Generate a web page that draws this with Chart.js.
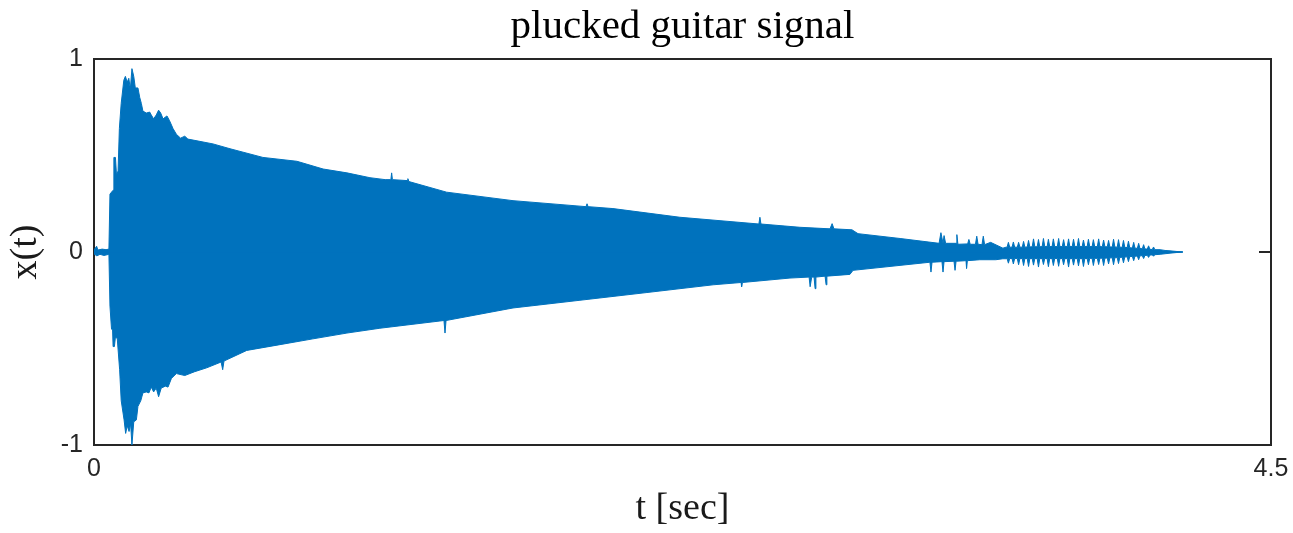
<!DOCTYPE html>
<html>
<head>
<meta charset="utf-8">
<script src="https://cdn.jsdelivr.net/npm/chart.js@4/dist/chart.umd.min.js"></script>
<style>
  html, body { margin: 0; padding: 0; background: #fff; }
  canvas { display: block; }
</style>
</head>
<body>
<canvas id="c" width="1293" height="533"></canvas>
<script>
// ---- data (time in seconds, amplitude) ----
const titleText = 'plucked guitar signal';
const xAxisLabel = 't [sec]';
const yAxisLabel = 'x(t)';
const xTicks = [0, 4.5];
const xTickLabels = ['0', '4.5'];
const yTicks = [-1, 0, 1];
const yTickLabels = ['-1', '0', '1'];

// upper envelope of the waveform: [t, amplitude]
const upperEnvelope = [
  [0,0.01],[0.010,0.03],[0.015,0.01],[0.031,0.015],[0.046,0.012],[0.057,0.015],
  [0.061,0.30],[0.073,0.32],[0.076,0.49],[0.082,0.49],[0.086,0.40],[0.092,0.42],
  [0.097,0.64],[0.104,0.77],[0.114,0.89],[0.120,0.91],[0.127,0.88],[0.133,0.90],
  [0.139,0.845],[0.145,0.95],[0.152,0.91],[0.158,0.85],[0.168,0.85],[0.175,0.80],
  [0.181,0.77],[0.187,0.73],[0.200,0.72],[0.213,0.725],[0.219,0.71],[0.228,0.69],
  [0.238,0.71],[0.247,0.735],[0.255,0.72],[0.264,0.69],[0.279,0.705],[0.289,0.68],
  [0.302,0.64],[0.315,0.61],[0.331,0.59],[0.347,0.60],[0.359,0.585],[0.394,0.576],
  [0.455,0.56],[0.520,0.535],[0.646,0.49],[0.776,0.47],[0.876,0.43],[0.967,0.41],
  [1.055,0.385],[1.113,0.375],[1.135,0.375],[1.138,0.41],[1.141,0.375],[1.197,0.37],
  [1.200,0.38],[1.204,0.365],[1.348,0.31],[1.602,0.266],[1.881,0.235],[1.885,0.25],
  [1.889,0.235],[1.984,0.225],[2.240,0.18],[2.542,0.145],[2.546,0.18],[2.550,0.145],
  [2.699,0.128],[2.814,0.12],[2.822,0.147],[2.829,0.12],[2.898,0.115],[2.921,0.095],
  [3.082,0.07],[3.231,0.045],[3.238,0.10],[3.246,0.045],[3.250,0.085],[3.256,0.045],
  [3.296,0.045],[3.299,0.09],[3.303,0.04],[3.340,0.042],[3.345,0.065],[3.350,0.04],
  [3.370,0.04],[3.375,0.082],[3.380,0.04],[3.395,0.038],[3.400,0.082],[3.405,0.038],
  [3.428,0.05],[3.475,0.02],[3.487,0.025],
  [3.491,0.025],[3.496,0.05],[3.501,0.025],[3.510,0.025],[3.515,0.052],[3.520,0.025],
  [3.530,0.025],[3.535,0.05],[3.540,0.025],[3.549,0.025],[3.554,0.055],[3.559,0.025],
  [3.568,0.026],[3.573,0.06],[3.578,0.026],[3.587,0.027],[3.592,0.068],[3.597,0.027],
  [3.606,0.027],[3.611,0.065],[3.616,0.027],[3.625,0.028],[3.630,0.07],[3.635,0.028],
  [3.644,0.028],[3.649,0.066],[3.654,0.028],[3.663,0.028],[3.668,0.068],[3.673,0.028],
  [3.683,0.028],[3.688,0.07],[3.693,0.028],[3.702,0.028],[3.707,0.064],[3.712,0.028],
  [3.721,0.028],[3.726,0.068],[3.731,0.028],[3.740,0.028],[3.745,0.066],[3.750,0.028],
  [3.759,0.028],[3.764,0.07],[3.769,0.028],[3.778,0.028],[3.783,0.062],[3.788,0.028],
  [3.797,0.028],[3.802,0.066],[3.807,0.028],[3.816,0.028],[3.821,0.064],[3.826,0.028],
  [3.836,0.028],[3.841,0.068],[3.846,0.028],[3.855,0.027],[3.860,0.062],[3.865,0.027],
  [3.874,0.027],[3.879,0.06],[3.884,0.026],[3.893,0.026],[3.898,0.066],[3.903,0.026],
  [3.912,0.025],[3.917,0.064],[3.922,0.025],[3.931,0.024],[3.936,0.06],[3.941,0.024],
  [3.950,0.023],[3.955,0.056],[3.960,0.022],[3.970,0.021],[3.975,0.05],[3.980,0.02],
  [3.989,0.019],[3.994,0.045],[3.999,0.018],[4.008,0.017],[4.013,0.038],[4.018,0.016],
  [4.027,0.015],[4.032,0.032],[4.037,0.014],[4.046,0.013],[4.051,0.026],[4.056,0.012],
  [4.076,0.012],[4.095,0.008],[4.114,0.006],[4.137,0.003],[4.163,0]
];

// lower envelope of the waveform: [t, amplitude]
const lowerEnvelope = [
  [0,-0.01],[0.011,-0.02],[0.023,-0.012],[0.038,-0.018],[0.057,-0.012],
  [0.061,-0.28],[0.067,-0.40],[0.071,-0.40],[0.073,-0.49],[0.078,-0.49],[0.082,-0.44],
  [0.089,-0.45],[0.098,-0.61],[0.104,-0.77],[0.115,-0.87],[0.121,-0.94],[0.127,-0.90],
  [0.134,-0.93],[0.140,-0.89],[0.145,-1.0],[0.152,-0.88],[0.162,-0.87],[0.168,-0.80],
  [0.179,-0.77],[0.187,-0.73],[0.200,-0.725],[0.210,-0.73],[0.219,-0.70],[0.228,-0.725],
  [0.238,-0.705],[0.247,-0.75],[0.257,-0.705],[0.273,-0.695],[0.283,-0.70],[0.296,-0.655],
  [0.315,-0.63],[0.347,-0.64],[0.385,-0.62],[0.431,-0.60],[0.486,-0.57],[0.492,-0.61],
  [0.497,-0.565],[0.584,-0.51],[0.711,-0.48],[0.837,-0.45],[0.967,-0.42],[1.093,-0.395],
  [1.338,-0.355],[1.342,-0.42],[1.346,-0.355],[1.602,-0.29],[1.858,-0.25],[2.114,-0.21],
  [2.367,-0.17],[2.474,-0.158],[2.476,-0.18],[2.479,-0.158],[2.661,-0.135],[2.734,-0.13],
  [2.738,-0.18],[2.744,-0.13],[2.753,-0.13],[2.757,-0.19],[2.760,-0.13],[2.795,-0.125],
  [2.799,-0.17],[2.802,-0.125],[2.890,-0.116],[2.902,-0.095],[3.196,-0.053],[3.200,-0.104],
  [3.204,-0.053],[3.242,-0.05],[3.246,-0.104],[3.250,-0.05],[3.288,-0.048],[3.292,-0.095],
  [3.296,-0.048],[3.334,-0.045],[3.336,-0.085],[3.339,-0.045],[3.387,-0.04],[3.448,-0.04],
  [3.475,-0.035],[3.487,-0.035],
  [3.491,-0.034],[3.496,-0.058],[3.501,-0.034],[3.510,-0.034],[3.515,-0.062],[3.520,-0.034],
  [3.530,-0.034],[3.535,-0.066],[3.540,-0.034],[3.549,-0.034],[3.554,-0.07],[3.559,-0.034],
  [3.568,-0.034],[3.573,-0.075],[3.578,-0.034],[3.587,-0.034],[3.592,-0.068],[3.597,-0.034],
  [3.606,-0.034],[3.611,-0.078],[3.616,-0.034],[3.625,-0.034],[3.630,-0.065],[3.635,-0.034],
  [3.644,-0.034],[3.649,-0.076],[3.654,-0.034],[3.663,-0.034],[3.668,-0.07],[3.673,-0.034],
  [3.683,-0.034],[3.688,-0.074],[3.693,-0.034],[3.702,-0.034],[3.707,-0.066],[3.712,-0.034],
  [3.721,-0.034],[3.726,-0.078],[3.731,-0.034],[3.740,-0.034],[3.745,-0.068],[3.750,-0.034],
  [3.759,-0.034],[3.764,-0.072],[3.769,-0.034],[3.778,-0.034],[3.783,-0.075],[3.788,-0.034],
  [3.797,-0.034],[3.802,-0.066],[3.807,-0.033],[3.816,-0.033],[3.821,-0.07],[3.826,-0.033],
  [3.836,-0.033],[3.841,-0.065],[3.846,-0.032],[3.855,-0.032],[3.860,-0.07],[3.865,-0.032],
  [3.874,-0.031],[3.879,-0.062],[3.884,-0.03],[3.893,-0.03],[3.898,-0.066],[3.903,-0.03],
  [3.912,-0.029],[3.917,-0.06],[3.922,-0.028],[3.931,-0.027],[3.936,-0.056],[3.941,-0.026],
  [3.950,-0.025],[3.955,-0.05],[3.960,-0.024],[3.970,-0.023],[3.975,-0.045],[3.980,-0.022],
  [3.989,-0.021],[3.994,-0.04],[3.999,-0.02],[4.008,-0.019],[4.013,-0.034],[4.018,-0.018],
  [4.027,-0.017],[4.032,-0.028],[4.037,-0.016],[4.046,-0.015],[4.051,-0.022],[4.056,-0.014],
  [4.076,-0.012],[4.095,-0.009],[4.114,-0.006],[4.137,-0.003],[4.163,0]
];

// ---- rendering ----
const BLUE = '#0072BD';
const AXIS = '#262626';

const boxPlugin = {
  id: 'matlabBox',
  beforeDatasetsDraw(chart) {
    const { ctx, chartArea: a, scales: { x, y } } = chart;
    ctx.save();
    ctx.strokeStyle = AXIS;
    ctx.lineWidth = 2;
    ctx.strokeRect(a.left, a.top, a.right - a.left, a.bottom - a.top);
    const tl = 12;
    ctx.beginPath();
    yTicks.forEach(v => {
      const p = y.getPixelForValue(v);
      ctx.moveTo(a.left, p); ctx.lineTo(a.left + tl, p);
      ctx.moveTo(a.right, p); ctx.lineTo(a.right - tl, p);
    });
    xTicks.forEach(v => {
      const p = x.getPixelForValue(v);
      ctx.moveTo(p, a.bottom); ctx.lineTo(p, a.bottom - tl);
      ctx.moveTo(p, a.top); ctx.lineTo(p, a.top + tl);
    });
    ctx.stroke();
    ctx.restore();
  }
};

// title centred over the axes box (as in the reference)
const axesTitlePlugin = {
  id: 'axesTitle',
  afterDraw(chart) {
    const { ctx, chartArea: a } = chart;
    ctx.save();
    ctx.font = '41px "Liberation Serif"';
    ctx.fillStyle = '#000';
    ctx.textAlign = 'center';
    ctx.textBaseline = 'alphabetic';
    ctx.fillText(titleText, (a.left + a.right) / 2, a.top - 21);
    ctx.restore();
  }
};

const toPoints = arr => arr.map(([t, v]) => ({ x: t, y: v }));

new Chart(document.getElementById('c'), {
  type: 'line',
  data: {
    datasets: [
      {
        data: toPoints(upperEnvelope),
        borderColor: BLUE, backgroundColor: BLUE, borderWidth: 1,
        pointRadius: 0, tension: 0, fill: { value: -0.004 }
      },
      {
        data: toPoints(lowerEnvelope),
        borderColor: BLUE, backgroundColor: BLUE, borderWidth: 1,
        pointRadius: 0, tension: 0, fill: { value: 0.004 }
      }
    ]
  },
  options: {
    responsive: false,
    animation: false,
    devicePixelRatio: 1,
    events: [],
    layout: { padding: { left: 0, right: 22, top: 59, bottom: 0 } },
    plugins: {
      legend: { display: false },
      tooltip: { enabled: false },
      title: { display: false }
    },
    scales: {
      x: {
        type: 'linear', min: 0, max: 4.5,
        afterBuildTicks: s => { s.ticks = xTicks.map(v => ({ value: v })); },
        afterFit: s => { s.height = 88; s.paddingLeft = 0; s.paddingRight = 0; },
        grid: { display: false, drawTicks: false },
        border: { display: false },
        ticks: {
          autoSkip: false, maxRotation: 0, padding: 9, color: AXIS,
          font: { family: 'Liberation Sans', size: 25 },
          callback: (v, i) => xTickLabels[i]
        },
        title: {
          display: true, text: xAxisLabel, color: '#1a1a1a',
          font: { family: 'Liberation Serif', size: 38, lineHeight: 1.2 },
          padding: { top: 0, bottom: 1 }
        }
      },
      y: {
        type: 'linear', min: -1, max: 1,
        afterBuildTicks: s => { s.ticks = yTicks.map(v => ({ value: v })); },
        afterFit: s => { s.width = 94; s.paddingTop = 0; s.paddingBottom = 0; },
        grid: { display: false, drawTicks: false },
        border: { display: false },
        ticks: {
          autoSkip: false, padding: 11, color: AXIS,
          font: { family: 'Liberation Sans', size: 25 },
          callback: (v, i) => yTickLabels[i]
        },
        title: {
          display: true, text: yAxisLabel, color: '#1a1a1a',
          font: { family: 'Liberation Serif', size: 38, lineHeight: 1.2 },
          padding: { top: 3, bottom: 0 }
        }
      }
    }
  },
  plugins: [boxPlugin, axesTitlePlugin]
});
</script>
</body>
</html>
